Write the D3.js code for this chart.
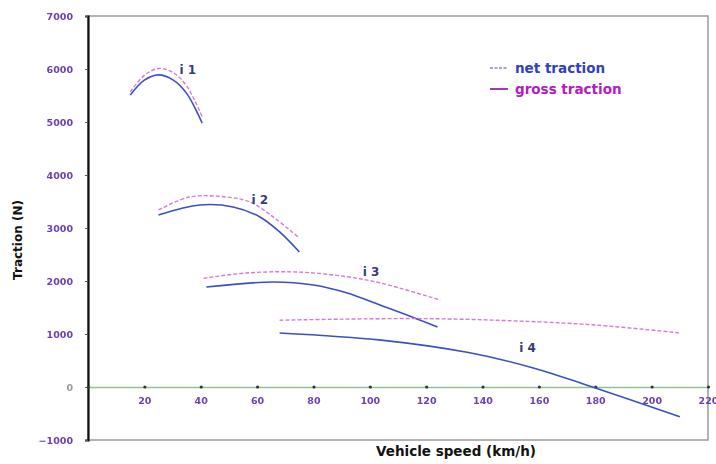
<!DOCTYPE html>
<html>
<head>
<meta charset="utf-8">
<script src="https://cdn.jsdelivr.net/npm/d3@7"></script>
<style>
  html, body { margin: 0; padding: 0; background: #fff; }
  svg { display: block; font-family: "DejaVu Sans", "Liberation Sans", sans-serif; }
</style>
</head>
<body>
<svg id="chart" width="716" height="464"></svg>
<script>
// Traction per gear against vehicle speed
const xTicks = [0, 20, 40, 60, 80, 100, 120, 140, 160, 180, 200, 220];
const yTicks = [-1000, 0, 1000, 2000, 3000, 4000, 5000, 6000, 7000];

// gear 1
const g1Speed  = [15, 20, 25, 30, 35, 40.5];
const g1Gross  = [5570, 5880, 6010, 5940, 5680, 5100];
const g1Net    = [5510, 5790, 5890, 5800, 5540, 4980];
// gear 2
const g2Speed  = [25, 36, 49, 57.5, 65.7, 75];
const g2Gross  = [3340, 3585, 3585, 3490, 3210, 2810];
const g2Speed2 = [25, 39.7, 51.5, 61, 68, 75];
const g2Net    = [3245, 3434, 3396, 3208, 2925, 2547];
// gear 3
const g3Speed  = [41, 56, 74, 92, 104, 125];
const g3Gross  = [2050, 2150, 2170, 2080, 1960, 1640];
const g3Speed2 = [42, 65.6, 80, 92, 103.6, 115, 124];
const g3Net    = [1887, 1981, 1925, 1774, 1547, 1321, 1132];
// gear 4
const g4Speed  = [68, 90, 120, 150, 180, 210];
const g4Gross  = [1260, 1280, 1290, 1250, 1170, 1020];
const g4Speed2 = [68, 104, 135, 158, 179, 210];
const g4Net    = [1020, 885, 650, 360, 0, -560];

const gearLabels = ["i 1", "i 2", "i 3", "i 4"];
const gearLabelAt = [[32.5, 5900], [58, 3450], [97.5, 2090], [153, 660]];

const legendLabels = ["net traction", "gross traction"];

const svg = d3.select("#chart");
const x = d3.scaleLinear().domain([0, 220]).range([88, 708]);
const y = d3.scaleLinear().domain([-1000, 7000]).range([440, 16]);

// frame
svg.append("rect")
  .attr("x", x(0)).attr("y", y(7000))
  .attr("width", x(220) - x(0)).attr("height", y(-1000) - y(7000))
  .attr("fill", "none").attr("stroke", "#9a9a9a").attr("stroke-width", 1.5);

// vertical axis
const yAxis = svg.append("g").attr("transform", `translate(${x(0)},0)`)
  .call(d3.axisLeft(y).tickValues(yTicks).tickSize(3).tickPadding(12).tickFormat(d3.format("d")));
yAxis.select(".domain").attr("stroke", "#111").attr("stroke-width", 2.2);
yAxis.selectAll(".tick line").attr("stroke", "#555");
yAxis.selectAll(".tick text")
  .attr("fill", d => d === 0 ? "#999" : "#6a3fb8")
  .attr("font-size", 9.5).attr("font-weight", "bold")
  .attr("font-family", "DejaVu Sans")
  .style("filter", "blur(0.4px)");

// horizontal axis at zero traction
const xAxis = svg.append("g").attr("transform", `translate(0,${y(0)})`)
  .call(d3.axisBottom(x).tickValues(xTicks).tickSize(0).tickPadding(10).tickFormat(d => d === 0 ? "" : d));
xAxis.select(".domain").attr("stroke", "#8fc48f").attr("stroke-width", 1.5);
xAxis.selectAll(".tick text")
  .attr("fill", "#6a3fb8").attr("font-size", 9.5).attr("font-weight", "bold")
  .attr("font-family", "DejaVu Sans")
  .style("filter", "blur(0.4px)");
xAxis.selectAll(".tick").append("circle").attr("r", 1.6).attr("fill", "#333");

// axis titles
svg.append("text")
  .attr("x", 456).attr("y", 456).attr("text-anchor", "middle")
  .attr("font-size", 13.5).attr("font-weight", "bold").attr("fill", "#111")
  .text("Vehicle speed (km/h)");
svg.append("text")
  .attr("transform", "translate(22,240) rotate(-90)").attr("text-anchor", "middle")
  .attr("font-size", 12).attr("font-weight", "bold").attr("fill", "#111")
  .text("Traction (N)");

// curves
const line = d3.line().x(d => x(d[0])).y(d => y(d[1])).curve(d3.curveCatmullRom.alpha(0.5));
const gears = [
  [g1Speed, g1Gross, g1Speed, g1Net],
  [g2Speed, g2Gross, g2Speed2, g2Net],
  [g3Speed, g3Gross, g3Speed2, g3Net],
  [g4Speed, g4Gross, g4Speed2, g4Net]
];
gears.forEach(([s, gross, s2, net]) => {
  svg.append("path").datum(d3.zip(s2, net)).attr("d", line)
    .attr("fill", "none").attr("stroke", "#3c4fc4").attr("stroke-width", 1.6);
  svg.append("path").datum(d3.zip(s, gross)).attr("d", line)
    .attr("fill", "none").attr("stroke", "#d77ad7").attr("stroke-width", 1.4)
    .attr("stroke-dasharray", "4,2");
});

// gear labels
gearLabels.forEach((t, i) => {
  svg.append("text")
    .attr("x", x(gearLabelAt[i][0])).attr("y", y(gearLabelAt[i][1]))
    .attr("font-size", 12).attr("font-weight", "bold").attr("fill", "#3a3a7a")
    .text(t);
});

// legend
const legendColors = ["#3040c0", "#b020c0"];
const lg = svg.append("g").attr("transform", "translate(490,68)");
legendLabels.forEach((t, i) => {
  const row = lg.append("g").attr("transform", `translate(0,${i * 21})`);
  row.append("line").attr("x1", 0).attr("x2", 18).attr("y1", 0).attr("y2", 0)
    .attr("stroke", i === 0 ? "#b49ad8" : "#a020b0").attr("stroke-width", 1.8)
    .attr("stroke-dasharray", i === 0 ? "3,1.5" : null);
  row.append("text").attr("x", 25).attr("y", 4.5)
    .attr("font-size", 13.5).attr("font-weight", "bold").attr("fill", legendColors[i])
    .text(t);
});
</script>
</body>
</html>
